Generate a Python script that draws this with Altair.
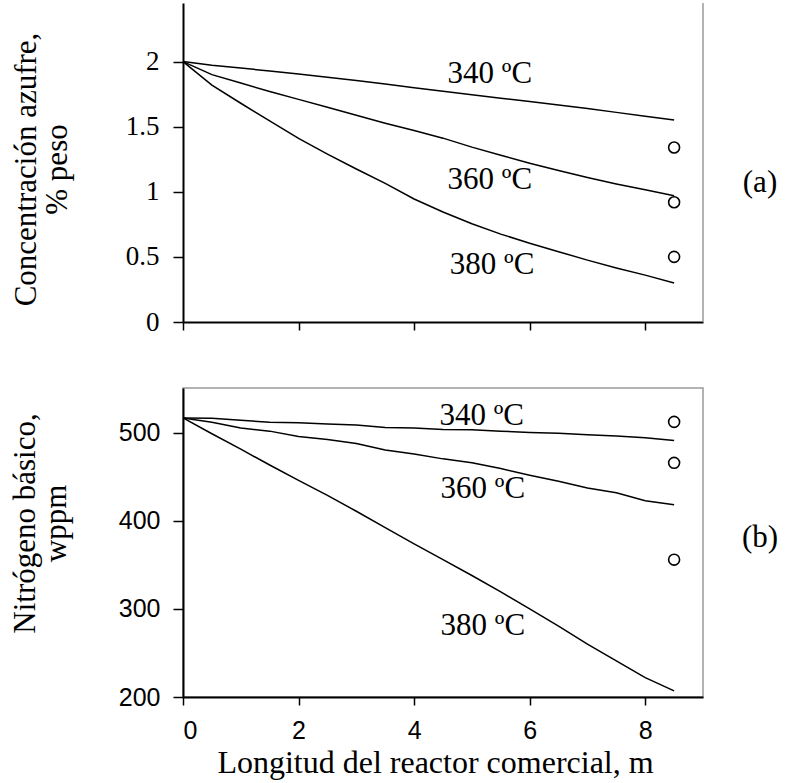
import altair as alt
import pandas as pd

# ---- data ----
x_grid = [0, 0.5, 1, 1.5, 2, 2.5, 3, 3.5, 4, 4.5, 5, 5.5, 6, 6.5, 7, 7.5, 8, 8.5]
temps = ["340 ºC", "360 ºC", "380 ºC"]

# sulfur concentration, % weight
s340 = [2.0, 1.972, 1.95, 1.928, 1.905, 1.88, 1.855, 1.828, 1.80, 1.772, 1.745, 1.719, 1.693, 1.667, 1.64, 1.61, 1.58, 1.552]
s360 = [2.0, 1.90, 1.835, 1.77, 1.71, 1.65, 1.588, 1.527, 1.47, 1.412, 1.343, 1.28, 1.22, 1.163, 1.11, 1.06, 1.015, 0.97]
s380 = [2.0, 1.82, 1.68, 1.545, 1.41, 1.29, 1.175, 1.065, 0.945, 0.845, 0.755, 0.675, 0.605, 0.54, 0.475, 0.415, 0.36, 0.30]

# basic nitrogen, wppm
n340 = [517, 516.5, 514.5, 512, 511.5, 510, 509, 506, 505.5, 504, 503.5, 502, 500.5, 499.5, 498, 496.5, 494.5, 491.5]
n360 = [517, 512, 505.5, 502, 496, 492.5, 488, 480.5, 476, 470.5, 466, 459.5, 452, 445, 437.5, 432, 423, 418.5]
n380 = [517, 499, 481.5, 463.5, 446, 429, 411, 392.5, 374, 356, 338, 319.5, 300, 280.5, 260, 241, 222, 207]

# experimental points at the reactor exit
exp_x = [8.5, 8.5, 8.5]
exp_s = [1.34, 0.92, 0.50]
exp_n = [512.5, 466, 356]

# curve label anchors (data coordinates)
lab_s_x = [5.31, 5.31, 5.35]
lab_s_y = [1.907, 1.088, 0.441]
lab_n_x = [5.17, 5.19, 5.19]
lab_n_y = [518.9, 436.1, 280.5]

panel_tags = ["(a)", "(b)"]

# ---- tables ----
def long_table(series):
    rows = []
    for name, ys in series:
        for xv, yv in zip(x_grid, ys):
            rows.append({"x": xv, "y": yv, "serie": name})
    return pd.DataFrame(rows)

df_s = long_table(zip(temps, [s340, s360, s380]))
df_n = long_table(zip(temps, [n340, n360, n380]))
df_es = pd.DataFrame({"x": exp_x, "y": exp_s})
df_en = pd.DataFrame({"x": exp_x, "y": exp_n})
df_ls = pd.DataFrame({"x": lab_s_x, "y": lab_s_y, "t": temps})
df_ln = pd.DataFrame({"x": lab_n_x, "y": lab_n_y, "t": temps})

W = 520
H_TOP = 319
H_BOT = 309
SERIF = "Liberation Serif"
SANS = "Liberation Sans"

x_scale = alt.Scale(domain=[0, 9], nice=False, zero=False)
ys_scale = alt.Scale(domain=[0, 2.45], nice=False, zero=False)
yn_scale = alt.Scale(domain=[200, 551], nice=False, zero=False)

common_axis = dict(grid=False, domainColor="black", domainWidth=2, tickColor="black",
                   tickWidth=1.5, labelColor="black", titleColor="black",
                   titleFontWeight="normal")

# ---- top panel ----
x_top_axis = alt.Axis(values=[0, 2, 4, 6, 8], labels=False, ticks=True, tickSize=8,
                      title=None, **common_axis)
y_top_axis = alt.Axis(values=[0, 0.5, 1, 1.5, 2], format="~g", tickSize=10,
                      labelFont=SERIF, labelFontSize=27, labelPadding=14,
                      title=["Concentración azufre,", "% peso"], titleFont=SERIF,
                      titleFontSize=31, titleAngle=270, titleAlign="center",
                      titleBaseline="alphabetic", titleX=-148, titleY=166,
                      titleLineHeight=31, **common_axis)

top_lines = alt.Chart(df_s).mark_line(color="black", strokeWidth=1.5).encode(
    x=alt.X("x:Q", scale=x_scale, axis=x_top_axis),
    y=alt.Y("y:Q", scale=ys_scale, axis=y_top_axis),
    detail="serie:N",
)
top_pts = alt.Chart(df_es).mark_point(shape="circle", size=120, color="black", opacity=1,
                                      strokeWidth=1.6, filled=False).encode(
    x=alt.X("x:Q", scale=x_scale), y=alt.Y("y:Q", scale=ys_scale))
top_lab = alt.Chart(df_ls).mark_text(font=SERIF, fontSize=31, color="black",
                                     align="center", baseline="middle").encode(
    x=alt.X("x:Q", scale=x_scale), y=alt.Y("y:Q", scale=ys_scale), text="t:N")
top_border = alt.Chart(pd.DataFrame({"a": [0]})).mark_rule(color="#9a9a9a", strokeWidth=1.5).encode(
    x=alt.value(W), y=alt.value(0), y2=alt.value(H_TOP))
top_tag = alt.Chart(pd.DataFrame({"t": [panel_tags[0]]})).mark_text(
    font=SERIF, fontSize=31, color="black", align="center", baseline="middle").encode(
    x=alt.value(577), y=alt.value(180), text="t:N")

top = alt.layer(top_border, top_lines, top_pts, top_lab, top_tag).properties(
    width=W, height=H_TOP, view=alt.ViewBackground(stroke=None))

# ---- bottom panel ----
x_bot_axis = alt.Axis(values=[0, 2, 4, 6, 8], format="d", tickSize=8, labelFont=SANS,
                      labelFontSize=25, labelPadding=13,
                      title="Longitud del reactor comercial, m",
                      titleFont=SERIF, titleFontSize=32, titleAlign="center",
                      titleBaseline="alphabetic", titleX=252, titleY=75, **common_axis)
y_bot_axis = alt.Axis(values=[200, 300, 400, 500], tickSize=10, labelFont=SANS,
                      labelFontSize=25, labelPadding=13,
                      title=["Nitrógeno básico,", "wppm"], titleFont=SERIF,
                      titleFontSize=31, titleAngle=270, titleAlign="center",
                      titleBaseline="alphabetic", titleX=-149, titleY=135,
                      titleLineHeight=31, **common_axis)

bot_lines = alt.Chart(df_n).mark_line(color="black", strokeWidth=1.5).encode(
    x=alt.X("x:Q", scale=x_scale, axis=x_bot_axis),
    y=alt.Y("y:Q", scale=yn_scale, axis=y_bot_axis),
    detail="serie:N",
)
bot_pts = alt.Chart(df_en).mark_point(shape="circle", size=120, color="black", opacity=1,
                                      strokeWidth=1.6, filled=False).encode(
    x=alt.X("x:Q", scale=x_scale), y=alt.Y("y:Q", scale=yn_scale))
bot_lab = alt.Chart(df_ln).mark_text(font=SERIF, fontSize=31, color="black",
                                     align="center", baseline="middle").encode(
    x=alt.X("x:Q", scale=x_scale), y=alt.Y("y:Q", scale=yn_scale), text="t:N")
bot_tag = alt.Chart(pd.DataFrame({"t": [panel_tags[1]]})).mark_text(
    font=SERIF, fontSize=31, color="black", align="center", baseline="middle").encode(
    x=alt.value(577), y=alt.value(150), text="t:N")

bottom = alt.layer(bot_lines, bot_pts, bot_lab, bot_tag).properties(
    width=W, height=H_BOT, view=alt.ViewBackground(stroke="#9a9a9a", strokeWidth=1.5))

chart = alt.vconcat(top, bottom, spacing=66, bounds="flush").properties(
    padding={"left": 8, "top": 2, "right": 5, "bottom": 5},
    background="white",
)

chart.save("out.html", embed_options={"renderer": "svg", "actions": False})
